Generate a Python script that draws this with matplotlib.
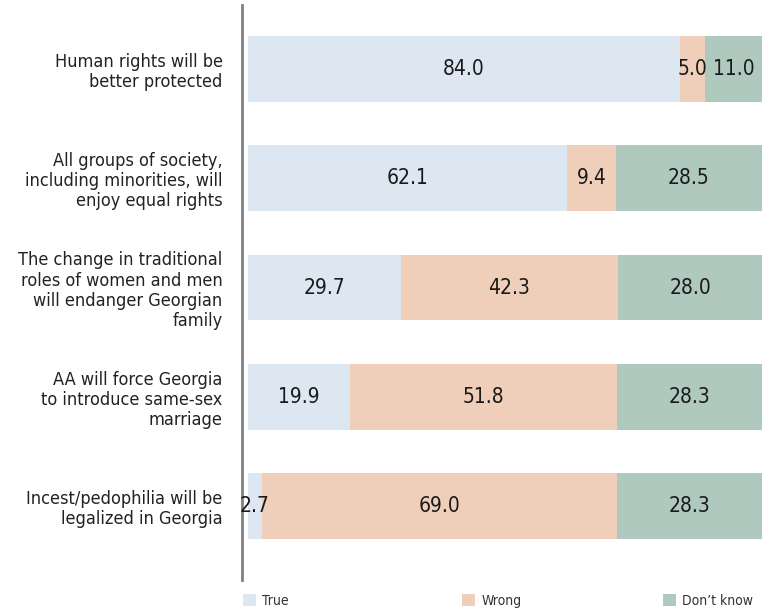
import matplotlib
matplotlib.use("Agg")
import matplotlib.pyplot as plt
from matplotlib.patches import Patch

plt.rcParams['font.family'] = ['DejaVu Sans']
plt.rcParams['font.stretch'] = 'condensed'

# survey statements and answer shares (%)
statements = [
    "Human rights will be\nbetter protected",
    "All groups of society,\nincluding minorities, will\nenjoy equal rights",
    "The change in traditional\nroles of women and men\nwill endanger Georgian\nfamily",
    "AA will force Georgia\nto introduce same-sex\nmarriage",
    "Incest/pedophilia will be\nlegalized in Georgia",
]
true_vals = [84.0, 62.1, 29.7, 19.9, 2.7]
wrong_vals = [5.0, 9.4, 42.3, 51.8, 69.0]
dk_vals = [11.0, 28.5, 28.0, 28.3, 28.3]
answers = ["True", "Wrong", "Don\u2019t know"]
colors = ["#dde7f1", "#f0cfba", "#b0c9be"]

fig = plt.figure(figsize=(7.71, 6.10), dpi=100)
ax = fig.add_axes([242 / 771, 1 - 580 / 610, 520 / 771, 575 / 610])

ypos = list(range(len(statements)))
left = [0.0] * len(statements)
for vals, col in zip([true_vals, wrong_vals, dk_vals], colors):
    bars = ax.barh(ypos, vals, left=left, height=0.6, color=col, edgecolor="none")
    for b, v in zip(bars, vals):
        ax.text(b.get_x() + b.get_width() / 2, b.get_y() + b.get_height() / 2,
                f"{v:.1f}", ha="center", va="center", fontsize=15, color="#1a1a1a")
    left = [l + v for l, v in zip(left, vals)]

ax.set_xlim(-1.17, 100)
ax.set_ylim(4.677, -0.586)
ax.set_yticks(ypos)
ax.set_yticklabels(statements, fontsize=13, color="#222222", linespacing=1.15)
ax.tick_params(axis="y", length=0, pad=14)
ax.set_xticks([])
for s in ["top", "right", "bottom"]:
    ax.spines[s].set_visible(False)
ax.spines["left"].set_color("#808080")
ax.spines["left"].set_linewidth(2)

# legend entries spread along the bottom
legend_x = [243 / 771, 462 / 771, 663 / 771]
for name, col, lx in zip(answers, colors, legend_x):
    fig.legend(handles=[Patch(facecolor=col, edgecolor="none", label=name)],
               loc="center left", bbox_to_anchor=(lx, 1 - 601 / 610),
               frameon=False, fontsize=10, handlelength=0.9, handleheight=0.9,
               handletextpad=0.5, borderpad=0, borderaxespad=0,
               labelcolor="#333333")

fig.savefig("out.png", dpi=100)
